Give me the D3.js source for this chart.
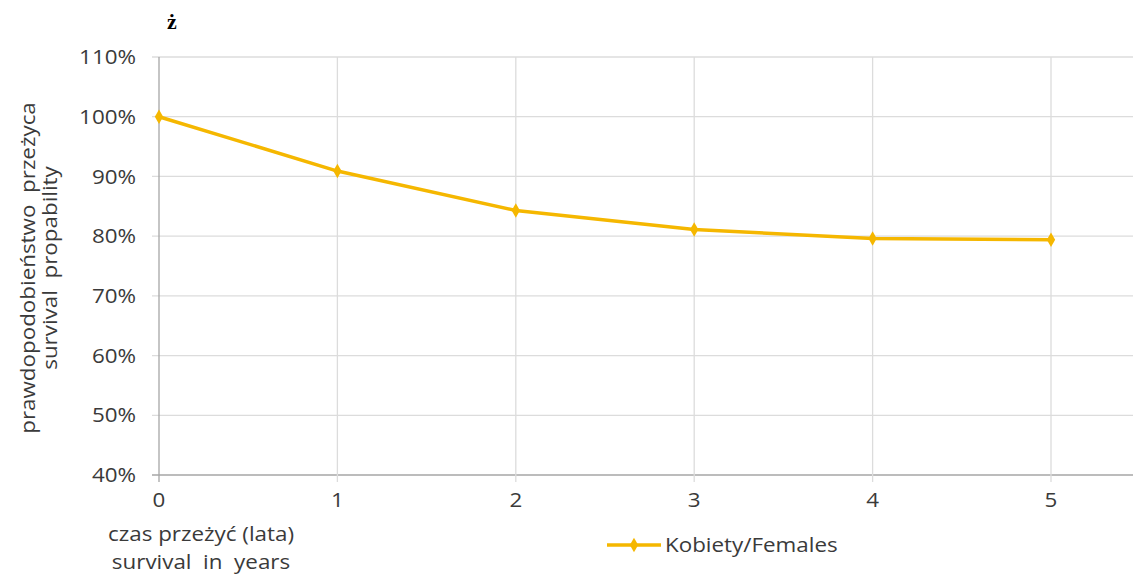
<!DOCTYPE html>
<html><head><meta charset="utf-8">
<script src="https://cdn.jsdelivr.net/npm/d3@7"></script>
<style>body{margin:0;background:#fff}svg{display:block}</style>
</head><body><svg id="c" width="1133" height="580"></svg>
<script>
const years = [0, 1, 2, 3, 4, 5];
const females = [1.00, 0.909, 0.843, 0.811, 0.796, 0.794];
const yTicks = [0.4, 0.5, 0.6, 0.7, 0.8, 0.9, 1.0, 1.1];
const seriesName = "Kobiety/Females";
const title = "ż";
const yTitle = ["prawdopodobieństwo  przeżyca", "survival  propability"];
const xTitle = ["czas przeżyć (lata)", "survival  in  years"];

const svg = d3.select("#c");
const font = "'Open Sans', Lato, sans-serif";
const fs = 20;
const sx = 1.12; // horizontal stretch of the original's text
const color = "#f5b700";
const textColor = "#3a3a3a";
const x = d3.scaleLinear().domain([0, 5]).range([159, 1051]);
const y = d3.scaleLinear().domain([0.4, 1.1]).range([475, 57]);
const xRightEdge = 1133;

function stretched(sel, px, py, anchor) {
  return sel.append("g").attr("transform", `translate(${px},${py}) scale(${sx},1)`)
    .append("text").attr("text-anchor", anchor).attr("font-family", font)
    .attr("font-size", fs).attr("fill", textColor).style("white-space", "pre");
}

// horizontal gridlines
svg.append("g").selectAll("line").data(yTicks).join("line")
  .attr("x1", 152).attr("x2", xRightEdge)
  .attr("y1", d => y(d)).attr("y2", d => y(d))
  .attr("stroke", d => d === 0.4 ? "#a6a6a6" : "#dcdcdc").attr("stroke-width", 1.3);
// vertical gridlines
svg.append("g").selectAll("line").data(years).join("line")
  .attr("x1", d => x(d)).attr("x2", d => x(d))
  .attr("y1", y(1.1)).attr("y2", y(0.4) + 7)
  .attr("stroke", d => d === 0 ? "#a6a6a6" : "#dcdcdc").attr("stroke-width", 1.3);
// y tick labels
yTicks.forEach(d => stretched(svg, 136, y(d), "end").attr("dy", "0.36em").text(d3.format(".0%")(d)));
// x tick labels
years.forEach(d => stretched(svg, x(d), 507, "middle").text(d));
// line
svg.append("path").datum(years.map((d, i) => [d, females[i]]))
  .attr("fill", "none").attr("stroke", color).attr("stroke-width", 3.5)
  .attr("stroke-linejoin", "round")
  .attr("d", d3.line().x(d => x(d[0])).y(d => y(d[1])));
const diamond = d3.symbol().type(d3.symbolDiamond).size(60);
svg.append("g").selectAll("path").data(years).join("path")
  .attr("transform", (d, i) => `translate(${x(d)},${y(females[i])})`)
  .attr("d", diamond).attr("fill", color);
// title
svg.append("text").attr("x", 172).attr("y", 29).attr("text-anchor", "middle")
  .attr("font-family", "'Liberation Serif', serif").attr("font-weight", "bold")
  .attr("font-size", 22).attr("fill", "#000").text(title);
// y title (rotated; stretch along reading direction)
yTitle.forEach((t, i) => {
  svg.append("g").attr("transform", `translate(${35 + i * 22},268) rotate(-90) scale(${sx},1)`)
    .append("text").attr("text-anchor", "middle").attr("font-family", font)
    .attr("font-size", fs).attr("fill", textColor).style("white-space", "pre").text(t);
});
// x title
xTitle.forEach((t, i) => stretched(svg, 201, 541 + i * 28, "middle").text(t));
// legend
svg.append("line").attr("x1", 607).attr("x2", 661).attr("y1", 545).attr("y2", 545)
  .attr("stroke", color).attr("stroke-width", 3.5);
svg.append("path").attr("transform", "translate(634,545)").attr("d", diamond).attr("fill", color);
stretched(svg, 665, 545, "start").attr("dy", "0.36em").text(seriesName);
</script></body></html>
